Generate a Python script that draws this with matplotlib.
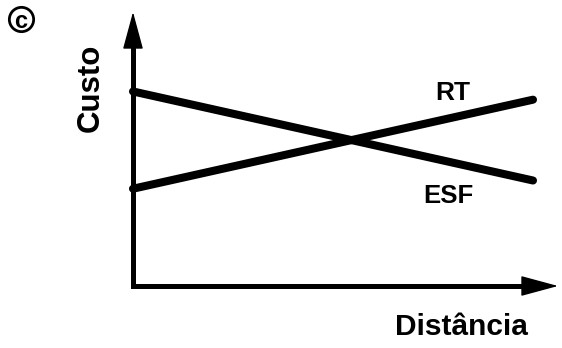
import matplotlib.pyplot as plt

# values (arbitrary units)
distancia = [0, 10]
custo_esf = [7.1, 3.85]
custo_rt = [3.55, 6.8]

plt.rcParams["font.family"] = ["Liberation Sans", "DejaVu Sans"]
plt.rcParams["font.weight"] = "bold"

fig = plt.figure(figsize=(5.62, 3.48), dpi=100)
ax = fig.add_axes([0, 0, 1, 1])
ax.set_xlim(-3.325, 10.725)
ax.set_ylim(-2.263, 10.438)
ax.axis("off")

# axes drawn as an L with arrow heads
ax.plot([0, 0, 10.0], [9.6, 0, 0], color="black", lw=3.6,
        solid_joinstyle="miter", solid_capstyle="butt")
head = dict(arrowstyle="-|>,head_length=2.4,head_width=0.65", color="black",
            lw=1, shrinkA=0, shrinkB=0, mutation_scale=10)
ax.annotate("", xy=(0, 10.0), xytext=(0, 8.5), arrowprops=head)
ax.annotate("", xy=(10.625, 0), xytext=(9.5, 0), arrowprops=head)

# cost lines
ax.plot(distancia, custo_esf, color="black", lw=5.8, solid_capstyle="round")
ax.plot(distancia, custo_rt, color="black", lw=5.8, solid_capstyle="round")

ax.text(8.0, 6.79, "RT", fontsize=19, ha="center", va="baseline")
ax.text(7.875, 3.03, "ESF", fontsize=18.5, ha="center", va="baseline")
ax.text(-1.05, 7.23, "Custo", fontsize=22.5, rotation=90,
        ha="center", va="center")
ax.text(8.2, -1.79, "Distância", fontsize=21.5, ha="center", va="baseline")

# panel tag (circled c)
ax.plot([-2.81], [9.73], marker="o", markersize=17.5, markerfacecolor="none",
        markeredgecolor="black", markeredgewidth=2.0)
ax.text(-2.81, 9.73, "c", fontsize=17, ha="center", va="center_baseline")

plt.savefig("out.png", dpi=100)
